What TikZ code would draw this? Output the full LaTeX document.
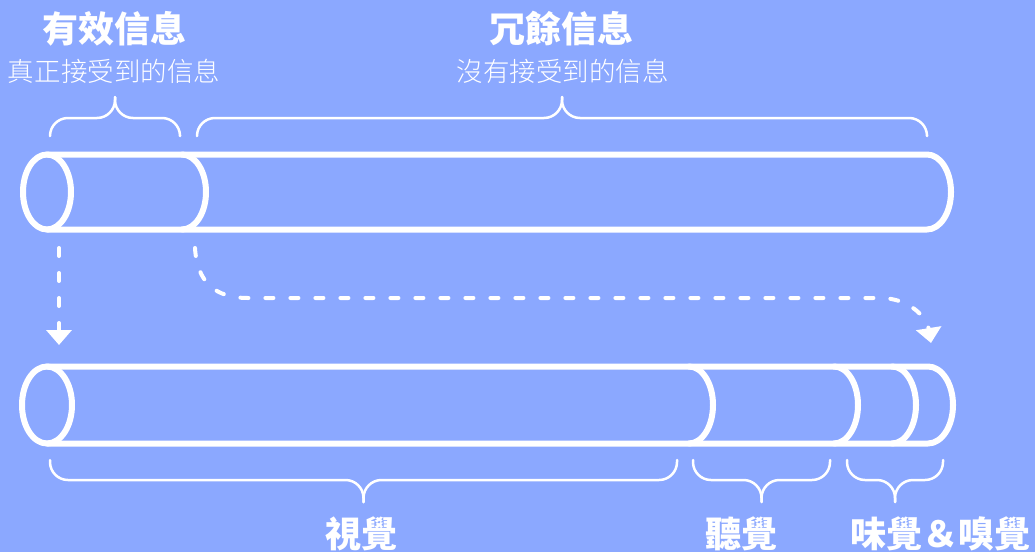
\documentclass[tikz,border=0pt]{standalone}
\usepackage{fontspec}
\setmainfont{Noto Sans CJK TC}
\newfontfamily\lightcjk{Noto Sans CJK TC Light}
\usetikzlibrary{arrows.meta}
\definecolor{bgblue}{RGB}{139,168,255}
\begin{document}
\begin{tikzpicture}[line join=round,line cap=round,x=1pt,y=-1pt,white]
	\tikzset{tube/.style={line width=6pt},
		curly/.style={line width=2.5pt,rounded corners=18pt},
		flow/.style={line width=4pt,dash pattern=on 8pt off 17pt,-{Triangle[width=25pt,length=15pt]}},
		title/.style={font=\bfseries\fontsize{36}{36}\selectfont,anchor=base,inner sep=0pt},
		sub/.style={font=\lightcjk\fontsize{26.5}{26.5}\selectfont,anchor=base,inner sep=0pt}}
	\fill[bgblue] (0,0) rectangle (1035,552);
	% upper tube
	\draw[tube] (47,192) ellipse[x radius=24,y radius=37.5];
	\draw[tube] (47,154.5) -- (927,154.5) arc[start angle=-90,end angle=90,x radius=24,y radius=37.5] -- (47,229.5);
	\draw[tube] (182,154.5) arc[start angle=-90,end angle=90,x radius=24,y radius=37.5];
	% lower tube
	\draw[tube] (47,405) ellipse[x radius=25,y radius=38.5];
	\draw[tube] (47,366.5) -- (928,366.5) arc[start angle=-90,end angle=90,x radius=25,y radius=38.5] -- (47,443.5);
	\foreach \x in {689,834,892}
	\draw[tube] (\x,366.5) arc[start angle=-90,end angle=90,x radius=24,y radius=38.5];
	% braces
	\foreach \a/\b/\e/\m/\t in {50/180/135/118/97,197/927/135/118/97,50/677/460/480/502,693/830/460/480/502,847/943/460/480/502}{
		\draw[curly] (\a,\e) -- (\a,\m) -- ({(\a+\b)/2},\m) -- ({(\a+\b)/2},\t);
		\draw[curly] (\b,\e) -- (\b,\m) -- ({(\a+\b)/2},\m) -- ({(\a+\b)/2},\t);
	}
	% labels
	\node[title] (useful) at (114.5,42.5) {有效信息};
	\node[sub] (useful sub) at (114,81) {真正接受到的信息};
	\node[title] (redundant) at (561,42.5) {冗餘信息};
	\node[sub] (redundant sub) at (562.5,81) {沒有接受到的信息};
	\node[title] (sight) at (361.5,547) {視覺};
	\node[title] (hearing) at (741.5,547) {聽覺};
	\node[title] (tastesmell) at (940.5,547) {味覺＆嗅覺};
	% arrows
	\coordinate (seen) at (59,248);
	\coordinate (seen end) at (59,345);
	\coordinate (unseen) at (195,248);
	\coordinate (unseen end) at (931,343);
	\draw[flow] (seen) -- (seen end);
	\draw[flow] (unseen) .. controls (197,282) and (215,298) .. (248,298) -- (880,298) .. controls (910,298) and (927,318) .. (unseen end);
\end{tikzpicture}
\end{document}
